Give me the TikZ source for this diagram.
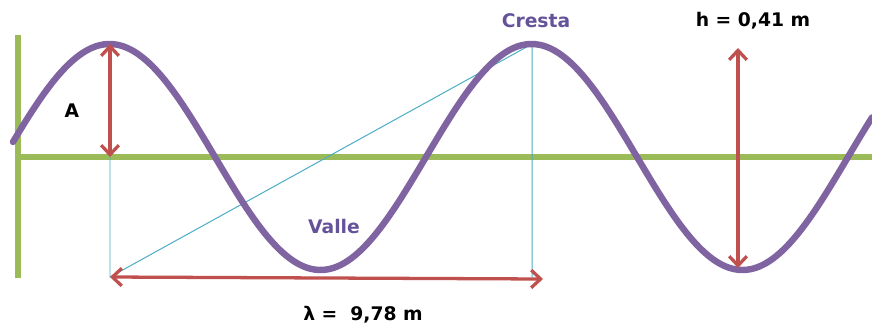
\documentclass[tikz,border=0pt]{standalone}
\usepackage{fontspec}
\setmainfont{DejaVu Sans}
\usetikzlibrary{arrows.meta}
\definecolor{wavepurple}{HTML}{8064A2}
\definecolor{labelpurple}{HTML}{65539A}
\definecolor{axisgreen}{HTML}{9BBB59}
\definecolor{arrowred}{HTML}{C0504D}
\definecolor{guidecyan}{HTML}{4BACC6}

\begin{document}
\begin{tikzpicture}[x=0.03cm,y=-0.03cm,>={Straight Barb[length=8pt,width=15pt]},
 redarrow/.style={<->,arrowred,line width=2.8pt},
 guide/.style={guidecyan,line width=0.85pt},
 lbl/.style={font=\fontsize{16}{19}\selectfont\bfseries,inner sep=0pt}]
\useasboundingbox (0,0) rectangle (872,327);
% axes
\draw[axisgreen,line width=5pt] (18,35)--(18,278);
\draw[axisgreen,line width=5pt] (15,157)--(872,157);
% points of the wave
\coordinate (crestA) at (110,44);
\coordinate (baseA) at (110,157);
\coordinate (footA) at (110,277);
\coordinate (crestB) at (532,44);
\coordinate (footB) at (532,277);
\coordinate (tipB) at (543,279);
\coordinate (topH) at (738,48);
\coordinate (troughH) at (738,268);
% guide lines
\draw[guide] (baseA)--(footA)--(crestB)--(footB);
% the wave
\draw[wavepurple,line width=5.5pt,line cap=round,domain=13:872,samples=200,smooth]
 plot (\x,{157-113*sin((\x-4)/422*360)});
% arrows
\draw[redarrow] (crestA)--(baseA);
\draw[redarrow] (topH)--(troughH);
\draw[redarrow] (footA)--(tipB);
% labels
\node[lbl] (lblA) at (72,111) {A};
\node[lbl,labelpurple] (lblCresta) at (536,21) {Cresta};
\node[lbl,labelpurple] (lblValle) at (334,227) {Valle};
\node[lbl] (lblH) at (753,21) {h = 0,41 m};
\node[lbl] (lblLambda) at (363,315) {λ =\ \ 9,78 m};
\end{tikzpicture}
\end{document}
